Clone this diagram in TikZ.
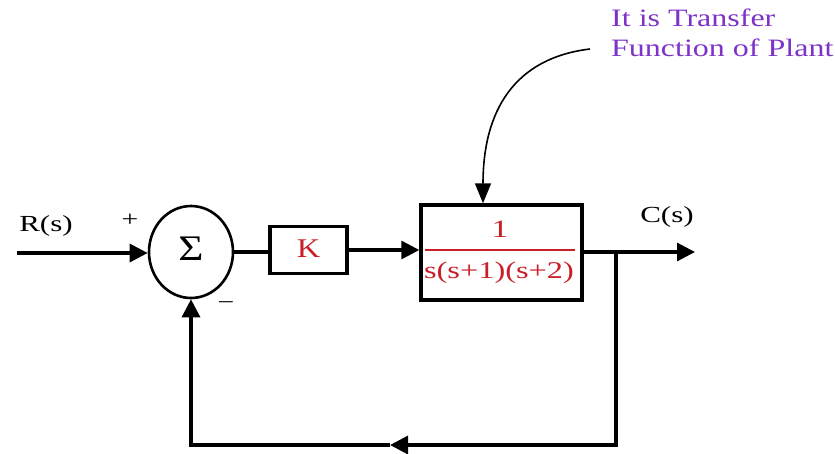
\documentclass[tikz,border=0pt]{standalone}
\usepackage{fontspec}
\setmainfont{Liberation Serif}[FakeStretch=1.2]
\newfontfamily\widefont{Liberation Serif}[FakeStretch=1.35]
\newfontfamily\notefont{Liberation Serif}[FakeStretch=1.28]
\usetikzlibrary{arrows.meta,shapes.geometric}
\definecolor{tfred}{RGB}{200,30,40}
\definecolor{notepurple}{RGB}{125,50,200}
\tikzset{
  sig/.style={line width=3.2pt},
  tip/.style={-{Triangle[length=18pt,width=18pt]}},
  blockbox/.style={draw,line width=3.4pt,inner sep=0pt},
  lab/.style={font=\widefont\fontsize{22}{24}\selectfont,inner sep=0pt},
}
\begin{document}
\begin{tikzpicture}[x=1pt,y=-1pt]
\useasboundingbox (0,0) rectangle (835,453);
% nodes
\node[draw,ellipse,line width=2.6pt,minimum width=84pt,minimum height=92pt,inner sep=0pt] (sum) at (191,252) {};
\node[inner sep=0pt,font=\fontsize{36}{36}\selectfont] (sigma) at (191,249) {Σ};
\node[blockbox,minimum width=77pt,minimum height=47pt] (K) at (308.5,250) {};
\node[inner sep=0pt,text=tfred,font=\fontsize{27}{27}\selectfont] (Klab) at (308.5,249) {K};
\node[blockbox,minimum width=161pt,minimum height=95pt] (G) at (501.5,252.5) {};
\node[lab,text=tfred,font=\widefont\fontsize{25}{25}\selectfont] (num) at (500,229) {1};
\node[lab,text=tfred,font=\widefont\fontsize{24}{24}\selectfont] (den) at (499,273) {s(s+1)(s+2)};
\coordinate (fl) at (425,250);
\coordinate (fr) at (575,250);
\draw[tfred,line width=1.8pt] (fl) -- (fr);
% input
\coordinate (in) at (17,253);
\node[lab,font=\widefont\fontsize{23}{24}\selectfont] (R) at (46,226) {R(s)};
\node[lab] (plus) at (130,220) {\fontsize{22}{22}\selectfont +};
\node[lab] (minus) at (226,306) {\fontsize{22}{22}\selectfont −};
\node[lab,font=\widefont\fontsize{23}{24}\selectfont] (C) at (667,217) {C(s)};
\coordinate (out) at (695,252);
\coordinate (br) at (616,252);
\coordinate (brd) at (616,445);
\coordinate (mid) at (390,445);
\coordinate (bl) at (191,445);
% connectors
\draw[sig,tip] (in) -- (sum.west |- in);
\draw[sig] (sum.east) -- (K.west |- sum.east);
\draw[sig,tip] (K.east) -- (G.west |- K.east);
\draw[sig,tip] (G.east |- br) -- (out);
\draw[sig,tip] (br) -- (brd) -- (mid);
\draw[sig,tip] (mid) -- (bl) -- (sum.south);
% annotation
\node[font=\notefont\fontsize{25}{30}\selectfont,text=notepurple,align=left,anchor=north west,inner sep=0pt] (note) at (611,9) {It is Transfer\\Function of Plant};
\coordinate (cs) at (590,49);
\draw[line width=1.6pt,-{Triangle[length=20pt,width=16pt]}] (cs) .. controls (515,58) and (483,110) .. (G.north -| 483,0);
\end{tikzpicture}
\end{document}
